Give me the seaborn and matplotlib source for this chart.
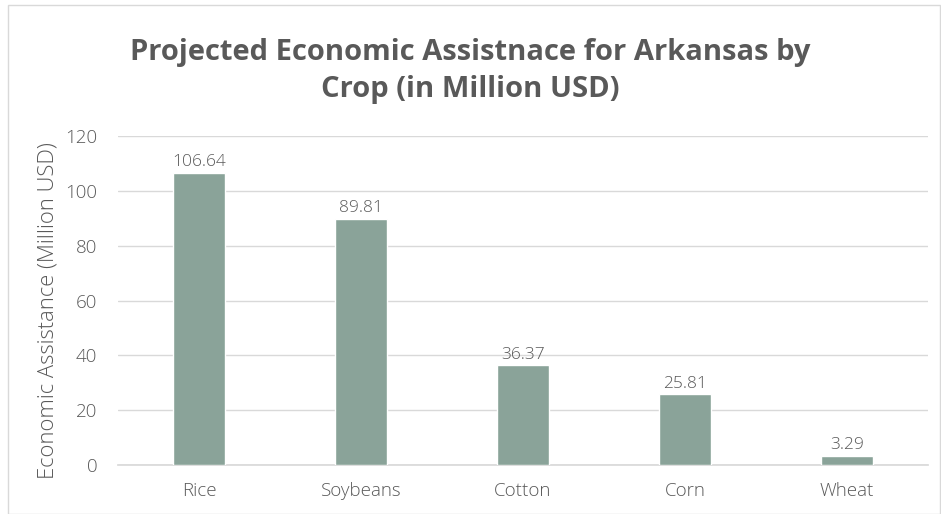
import matplotlib
matplotlib.use("Agg")
import matplotlib.pyplot as plt
import seaborn as sns
import pandas as pd
from matplotlib.patches import Rectangle

# chart data
crops = ["Rice", "Soybeans", "Cotton", "Corn", "Wheat"]
assistance = [106.64, 89.81, 36.37, 25.81, 3.29]
y_ticks = [0, 20, 40, 60, 80, 100, 120]

df = pd.DataFrame({"crop": crops, "assistance": assistance})

sns.set_theme(style="white")
plt.rcParams["font.family"] = ["Open Sans", "DejaVu Sans"]

text_grey = "#595959"
bar_color = "#8aa399"

fig = plt.figure(figsize=(9.41, 5.14), dpi=100)
ax = fig.add_axes([0.1254, 0.0953, 0.8606, 0.6401])

sns.barplot(data=df, x="crop", y="assistance", color=bar_color,
            width=0.32, saturation=1, ax=ax, zorder=3)

for i, v in enumerate(assistance):
    ax.text(i, v + 1.0, f"{v:.2f}", ha="center", va="bottom",
            fontsize=12.5, color=text_grey, fontweight="light")

ax.set_ylim(0, 120)
ax.set_yticks(y_ticks)
ax.set_xlim(-0.5, len(crops) - 0.5)
ax.yaxis.grid(True, color="#d9d9d9", linewidth=1, zorder=0)
for s in ["top", "right", "left"]:
    ax.spines[s].set_visible(False)
ax.spines["bottom"].set_color("#d9d9d9")
ax.tick_params(axis="both", length=0, labelsize=13.5, colors=text_grey)
ax.tick_params(axis="y", pad=15)
ax.tick_params(axis="x", pad=12)
for lbl in ax.get_xticklabels() + ax.get_yticklabels():
    lbl.set_fontweight("light")
ax.set_xlabel("")
ax.set_ylabel("Economic Assistance (Million USD)", fontsize=15.8,
              color=text_grey, fontweight="light")
ax.yaxis.set_label_coords(-0.074, 0.468)

fig.text(0.5, 0.862, "Projected Economic Assistnace for Arkansas by\nCrop (in Million USD)",
         ha="center", va="center", fontsize=21, fontweight="bold",
         color=text_grey, linespacing=1.4)

# thin border around the chart area
fig.patches.append(Rectangle((8 / 941, 0), 1 - 9 / 941, 1 - 5 / 514,
                             transform=fig.transFigure, fill=False,
                             edgecolor="#d9d9d9", linewidth=1))

fig.savefig("out.png", dpi=100)
